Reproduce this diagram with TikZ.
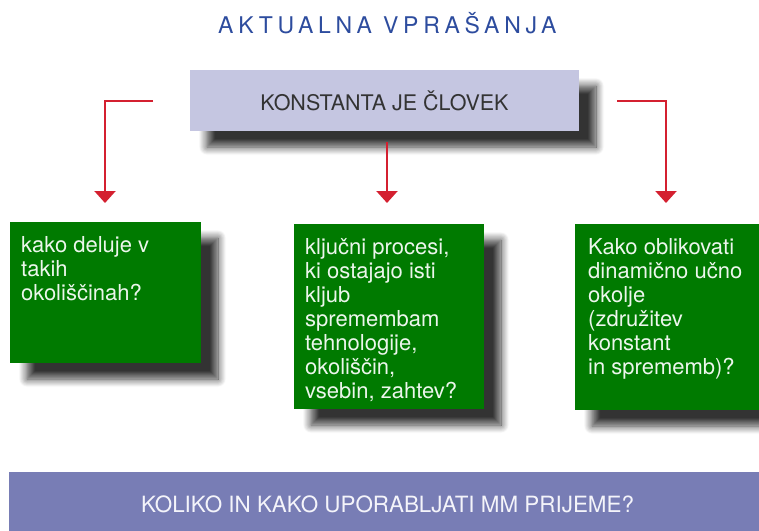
\documentclass[tikz,border=0pt]{standalone}
\usepackage{fontspec}
\setmainfont{TeX Gyre Heros}
\usetikzlibrary{arrows.meta,shadows.blur}
\definecolor{titleblue}{HTML}{2D4C9E}
\definecolor{topfill}{HTML}{C5C6E1}
\definecolor{boxgreen}{HTML}{007A00}
\definecolor{barfill}{HTML}{787DB5}
\definecolor{arrred}{HTML}{D42030}
\definecolor{darktext}{HTML}{333333}
\definecolor{lighttext}{HTML}{ECF6EC}
\definecolor{bartext}{HTML}{F4F4FA}
\begin{document}
\begin{tikzpicture}[x=1pt,y=-1pt,
  shadowed/.style={blur shadow={shadow xshift=17pt,shadow yshift=-16pt,shadow blur radius=8pt,shadow blur steps=12,shadow opacity=80}},
  panel/.style={draw=none,inner sep=0pt,outer sep=0pt,anchor=north west},
  greenbox/.style={panel,shadowed,fill=boxgreen},
  boxtext/.style={anchor=north west,inner sep=0pt,align=left,text=lighttext,font=\fontsize{22}{24}\selectfont},
  redarrow/.style={draw=arrred,line width=2.2pt,-{Triangle[width=21pt,length=12pt]}}
]
\useasboundingbox (0,0) rectangle (759,530);

% title
\node[anchor=base west,inner sep=0pt,text=titleblue,
      font=\fontsize{23}{24}\selectfont\addfontfeatures{LetterSpace=20.5}]
      (title) at (218,33) {AKTUALNA VPRAŠANJA};

% top box
\node[panel,shadowed,fill=topfill,minimum width=389pt,minimum height=61pt] (top) at (190,70) {};
\node[anchor=base,inner sep=0pt,text=darktext,font=\fontsize{21.5}{24}\selectfont]
      (toptext) at ([yshift=-9.5pt]top.center) {KONSTANTA JE ČLOVEK};

% green boxes
\node[greenbox,minimum width=191pt,minimum height=141pt] (lbox) at (10,222) {};
\node[greenbox,minimum width=190pt,minimum height=185pt] (mbox) at (294,224) {};
\node[greenbox,minimum width=200pt,minimum height=186pt] (rbox) at (575,224) {};

\node[boxtext] (ltext) at ([xshift=11pt,yshift=-14pt]lbox.north west)
  {kako deluje v\\takih\\okoliščinah?};
\node[boxtext] (mtext) at ([xshift=11pt,yshift=-14pt]mbox.north west)
  {ključni procesi,\\ki ostajajo isti\\kljub\\spremembam\\tehnologije,\\okoliščin,\\vsebin, zahtev?};
\node[boxtext] (rtext) at ([xshift=13pt,yshift=-14pt]rbox.north west)
  {Kako oblikovati\\dinamično učno\\okolje\\(združitev\\konstant\\in sprememb)?};

% bottom bar
\node[panel,fill=barfill,minimum width=760pt,minimum height=60pt] (bar) at (9,472) {};
\node[anchor=base,inner sep=0pt,text=bartext,font=\fontsize{22.4}{24}\selectfont]
      (bartext) at (387.5,512) {KOLIKO IN KAKO UPORABLJATI MM PRIJEME?};

% connectors
\coordinate (lstart) at (153,101);
\coordinate (lend) at (105,203);
\coordinate (mstart) at (387,142);
\coordinate (mend) at (387,203);
\coordinate (rstart) at (617,101);
\coordinate (rend) at (666,203);
\draw[redarrow] (lstart) -| (lend);
\draw[redarrow] (mstart) -- (mend);
\draw[redarrow] (rstart) -| (rend);
\end{tikzpicture}
\end{document}
